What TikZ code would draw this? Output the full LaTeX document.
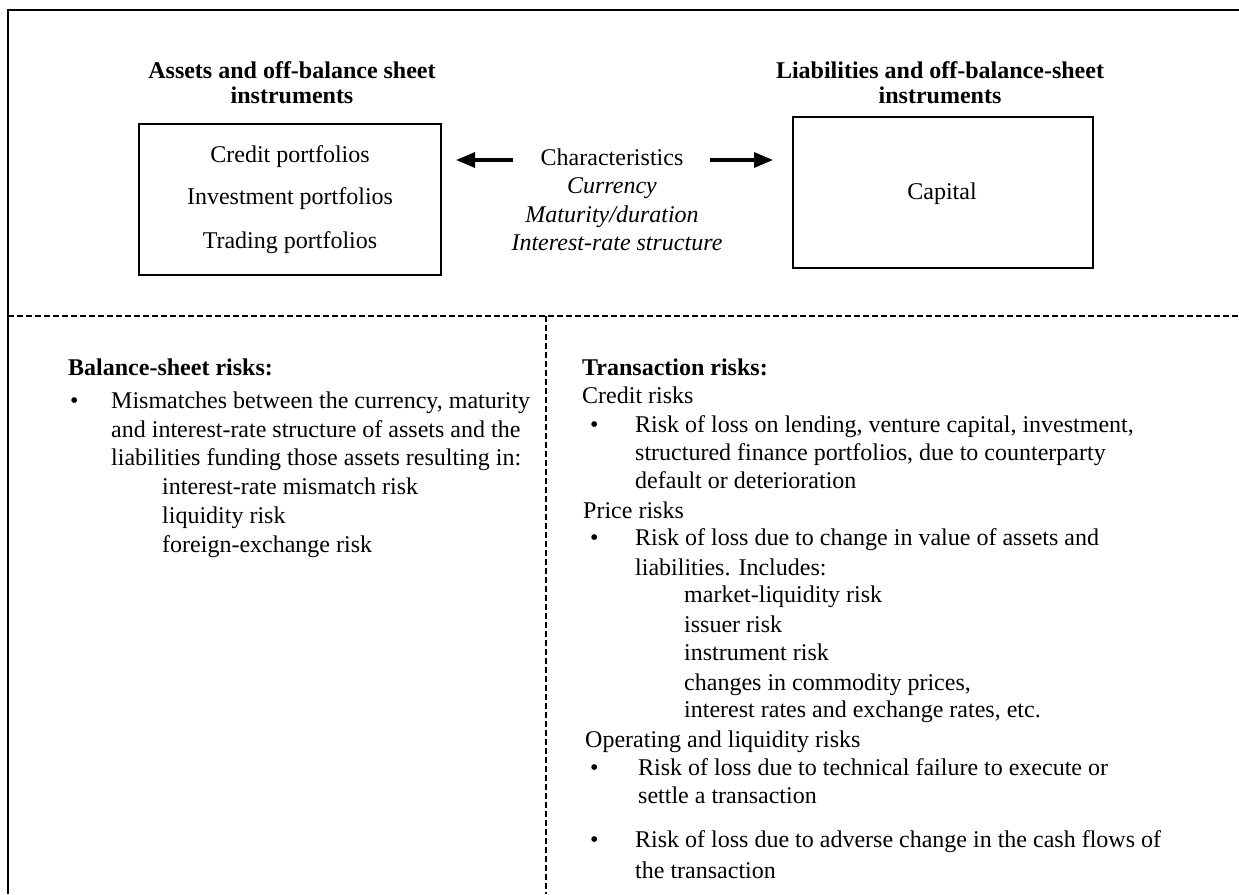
\documentclass[tikz,border=0pt]{standalone}
\usepackage{fontspec}
\setmainfont{Liberation Serif}
\usetikzlibrary{arrows.meta}
\begin{document}
\begin{tikzpicture}[x=1pt,y=-1pt,
  txt/.style={anchor=base west,inner sep=0pt,font=\fontsize{24}{28.7}\selectfont},
  ctr/.style={anchor=base,inner sep=0pt,font=\fontsize{24}{28.7}\selectfont},
  ital/.style={ctr,font=\fontsize{24}{28.7}\selectfont\itshape},
  hd/.style={anchor=base west,inner sep=0pt,font=\fontsize{24}{28.7}\selectfont\bfseries},
  hdc/.style={anchor=base,inner sep=0pt,font=\fontsize{24}{28.7}\selectfont\bfseries},
  blt/.style={anchor=base west,inner sep=0pt,font=\fontsize{24}{28.7}\selectfont},
  boxst/.style={draw,line width=2pt,inner sep=0pt},
  frame/.style={line width=2.4pt},
  dsh/.style={line width=1.3pt,dash pattern=on 6pt off 3pt},
  arr/.style={line width=3.2pt,-{Triangle[length=19pt,width=15pt]}}]
\useasboundingbox (0,0) rectangle (1239,894);

% frame
\coordinate (ftl) at (8,10);
\coordinate (ftr) at (1239,10);
\coordinate (fbl) at (8,894);
\draw[frame] (fbl) -- (ftl) -- (ftr);
% dashed separators
\coordinate (dl) at (8,316);
\coordinate (dr) at (1239,316);
\coordinate (dm) at (546,316);
\coordinate (db) at (546,894);
\draw[dsh] (dl) -- (dr);
\draw[dsh] (dm) -- (db);

% headings
\node[hdc] (ha1) at (292,78) {Assets and off-balance sheet};
\node[hdc] (ha2) at (292,103) {instruments};
\node[hdc] (hl1) at (940,78) {Liabilities and off-balance-sheet};
\node[hdc] (hl2) at (940,103) {instruments};

% boxes
\node[boxst,minimum width=302pt,minimum height=151pt] (lbox) at (290,199.5) {};
\node[boxst,minimum width=300pt,minimum height=151pt] (rbox) at (943,192.5) {};
\node[ctr] (cp) at (290,162) {Credit portfolios};
\node[ctr] (ip) at (290,204) {Investment portfolios};
\node[ctr] (tp) at (290,248) {Trading portfolios};
\node[ctr] (cap) at (942,199) {Capital};

% characteristics
\node[ctr] (ch) at (612,165) {Characteristics};
\node[ital] (cu) at (612,193) {Currency};
\node[ital] (md) at (612,222) {Maturity/duration};
\node[ital] (ir) at (617,250) {Interest-rate structure};

\coordinate (la) at (513,160);
\coordinate (ra) at (710,160);
\draw[arr,shorten >=14pt] (la) -- (lbox.east |- la);
\draw[arr,shorten >=19pt] (ra) -- (rbox.west |- ra);

% balance-sheet risks
\node[hd] (bs) at (68,375) {Balance-sheet risks:};
\node[blt] (b1) at (70,408) {\textbullet};
\node[txt] (m1) at (111,408) {Mismatches between the currency, maturity};
\node[txt] (m2) at (111,437) {and interest-rate structure of assets and the};
\node[txt] (m3) at (111,465) {liabilities funding those assets resulting in:};
\node[txt] (m4) at (162,494) {interest-rate mismatch risk};
\node[txt] (m5) at (162,523) {liquidity risk};
\node[txt] (m6) at (162,552) {foreign-exchange risk};

% transaction risks
\node[hd] (tr) at (582,375) {Transaction risks:};
\node[txt] (cr) at (582,403) {Credit risks};
\node[blt] (b2) at (590,432) {\textbullet};
\node[txt] (c1) at (635,432) {Risk of loss on lending, venture capital, investment,};
\node[txt] (c2) at (635,460) {structured finance portfolios, due to counterparty};
\node[txt] (c3) at (635,488) {default or deterioration};
\node[txt] (pr) at (583,518) {Price risks};
\node[blt] (b3) at (590,545) {\textbullet};
\node[txt] (p1) at (635,545) {Risk of loss due to change in value of assets and};
\node[txt] (p2) at (635,575) {liabilities. Includes:};
\node[txt] (p3) at (684,602) {market-liquidity risk};
\node[txt] (p4) at (684,632) {issuer risk};
\node[txt] (p5) at (684,660) {instrument risk};
\node[txt] (p6) at (684,690) {changes in commodity prices,};
\node[txt] (p7) at (684,717) {interest rates and exchange rates, etc.};
\node[txt] (op) at (585,747) {Operating and liquidity risks};
\node[blt] (b4) at (590,775) {\textbullet};
\node[txt] (o1) at (638,775) {Risk of loss due to technical failure to execute or};
\node[txt] (o2) at (638,803) {settle a transaction};
\node[blt] (b5) at (590,847) {\textbullet};
\node[txt] (o3) at (635,847) {Risk of loss due to adverse change in the cash flows of};
\node[txt] (o4) at (635,878) {the transaction};
\end{tikzpicture}
\end{document}
